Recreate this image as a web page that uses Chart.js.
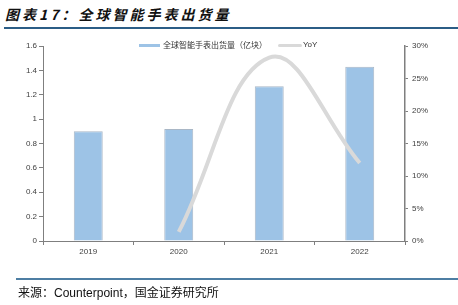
<!DOCTYPE html>
<html>
<head>
<meta charset="utf-8">
<script src="https://cdn.jsdelivr.net/npm/chart.js@4"></script>
<style>
  html, body { margin: 0; padding: 0; background: #fff; }
  #wrap { position: relative; width: 458px; height: 305px; overflow: hidden; font-family: "Noto Sans CJK SC", sans-serif; }
  #title { position: absolute; left: 5px; top: 4px; font-size: 14px; font-weight: bold; font-style: italic; color: #111; letter-spacing: 3px; }
  #topline { position: absolute; left: 4px; right: 0; top: 27px; height: 2px; background: #2b5d86; }
  #bottomline { position: absolute; left: 16px; right: 0; top: 278px; height: 2px; background: #4d7ea3; }
  #source { position: absolute; left: 18px; top: 283px; font-size: 12px; color: #111; }
  #source .en { font-family: "Liberation Sans", Arial, sans-serif; }
  canvas { position: absolute; left: 0; top: 0; }
  .leg { position: absolute; font-size: 8px; color: #333; top: 40px; line-height: 10px; }
  .sw { position: absolute; }
</style>
</head>
<body>
<div id="wrap">
  <div id="title">图表17：全球智能手表出货量</div>
  <div id="topline"></div>
  <canvas id="chart" width="458" height="305"></canvas>
  <div class="sw" style="left:139px;top:44px;width:21px;height:3px;background:#9dc3e6;"></div>
  <div class="leg" style="left:163px;">全球智能手表出货量（亿块）</div>
  <div class="sw" style="left:278px;top:44px;width:24px;height:3px;background:#d9d9d9;border-radius:2px;"></div>
  <div class="leg" style="left:303px;font-family:'Liberation Sans',Arial,sans-serif;">YoY</div>
  <div id="bottomline"></div>
  <div id="source">来源：<span class="en">Counterpoint</span>，国金证券研究所</div>
</div>
<script>
// 数据
const years = ['2019', '2020', '2021', '2022'];
const shipments = [0.90, 0.92, 1.27, 1.43];   // 亿块
const yoy = [null, 1.4, 28.2, 12];            // %

const tickFont = { family: "'Liberation Sans', Arial, sans-serif", size: 8 };
const axisGray = '#7f7f7f';

new Chart(document.getElementById('chart').getContext('2d'), {
  type: 'bar',
  data: {
    labels: years,
    datasets: [
      {
        type: 'line',
        label: 'YoY',
        data: yoy,
        yAxisID: 'y1',
        borderColor: '#d9d9d9',
        borderWidth: 4,
        pointRadius: 0,
        tension: 0.4,
        fill: false,
        order: 0
      },
      {
        type: 'bar',
        label: '全球智能手表出货量（亿块）',
        data: shipments,
        yAxisID: 'y',
        backgroundColor: '#9dc3e6',
        borderColor: '#a9b7c6',
        borderWidth: 1,
        categoryPercentage: 0.64,
        barPercentage: 0.5,
        order: 1
      }
    ]
  },
  options: {
    responsive: false,
    animation: false,
    layout: { padding: { left: 0, right: 0, top: 46, bottom: 44 } },
    plugins: { legend: { display: false }, tooltip: { enabled: false } },
    scales: {
      x: {
        offset: true,
        grid: { display: true, drawOnChartArea: false, offset: true, tickLength: 4, color: axisGray },
        border: { color: axisGray },
        ticks: { font: tickFont, color: '#404040', padding: 2 },
        afterFit: s => { s.height = 20; }
      },
      y: {
        position: 'left',
        min: 0, max: 1.6,
        grid: { display: true, drawOnChartArea: false, tickLength: 4, color: axisGray },
        border: { color: axisGray },
        ticks: { stepSize: 0.2, font: tickFont, color: '#404040', padding: 2,
                 callback: v => Math.round(v * 10) / 10 },
        afterFit: s => { s.width = 43; }
      },
      y1: {
        position: 'right',
        min: 0, max: 30,
        grid: { display: true, drawOnChartArea: false, tickLength: 3, color: axisGray },
        border: { color: axisGray, width: 1.5 },
        ticks: { stepSize: 5, font: tickFont, color: '#404040', padding: 4,
                 callback: v => v + '%' },
        afterFit: s => { s.width = 53; }
      }
    }
  }
});
</script>
</body>
</html>
